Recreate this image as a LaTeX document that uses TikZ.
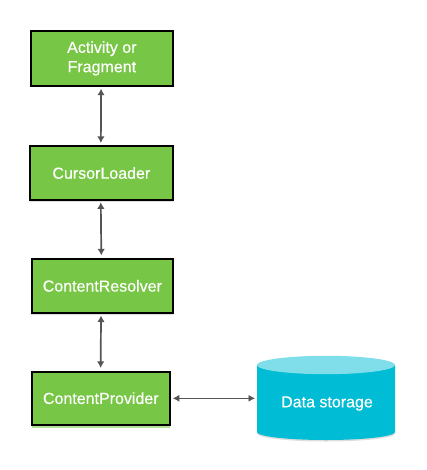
\documentclass[tikz,border=0pt]{standalone}
\usepackage{fontspec}
\setmainfont[FakeBold=0.3]{Liberation Sans}
\usetikzlibrary{arrows.meta}
\definecolor{boxgreen}{HTML}{78C645}
\definecolor{cyl}{HTML}{00BCD4}
\definecolor{cyltop}{HTML}{80DEEA}
\definecolor{arrowgray}{HTML}{555555}
\definecolor{softgray}{HTML}{DDDDDD}
\tikzset{
  lbl/.style={text=white,font=\fontsize{16}{19}\selectfont,align=center,inner sep=0pt,outer sep=0pt},
  greenbox/.style={draw=black,line width=2pt,fill=boxgreen,lbl,anchor=north west},
  link/.style={draw=arrowgray,line width=1.7pt,{Latex[length=6.5pt,width=7.5pt]}-{Latex[length=6.5pt,width=7.5pt]},shorten <=2.8pt,shorten >=3.6pt},
  thinlink/.style={draw=arrowgray,line width=0.9pt,{Latex[length=6.5pt,width=7pt]}-{Latex[length=6.5pt,width=7pt]},shorten <=3pt,shorten >=2pt},
}
\begin{document}
\begin{tikzpicture}[x=1pt,y=-1pt]
\useasboundingbox[fill=white] (0,0) rectangle (427,470);
% soft shadows
\fill[softgray] (31,86) rectangle (173,87.5);
\fill[softgray] (30,200) rectangle (173,201.5);
\fill[softgray] (31,313.5) rectangle (173,315);
\fill[boxgreen!55] (32,425.5) rectangle (170,427.5);
\fill[softgray] (326,433.5) ellipse[x radius=69,y radius=8];
% boxes
\node[greenbox,minimum width=141.5pt,minimum height=54.4pt] (a) at (31.1,31.5) {\raisebox{-1.5pt}{\begin{tabular}{@{}c@{}}Activity or\\[0.4pt]Fragment\end{tabular}}};
\node[greenbox,minimum width=142.5pt,minimum height=53pt] (b) at (30.1,146.5) {CursorLoader};
\node[greenbox,minimum width=141.5pt,minimum height=53.7pt] (c) at (31.6,259) {ContentResolver};
\node[greenbox,minimum width=138pt,minimum height=53.4pt] (d) at (31.8,371.5) {ContentProvider};
% storage
\node[minimum width=138pt,minimum height=84pt,inner sep=0pt,outer sep=0pt] (e) at (326,398.3) {};
\fill[cyl] (257,365) -- (257,432) arc[x radius=69,y radius=8,start angle=180,end angle=0] -- (395,365) -- cycle;
\fill[cyltop] (326,365) ellipse[x radius=69,y radius=9.2];
\node[lbl] (elabel) at (327,403.5) {Data storage};
% connectors
\draw[link] ([xshift=-0.8pt]a.south) -- ([xshift=-0.5pt]b.north);
\draw[link] ([xshift=-0.6pt]b.south) -- ([xshift=-1pt]c.north);
\draw[link] ([xshift=-1.3pt]c.south) -- ([xshift=-0.2pt]d.north);
\draw[thinlink] (d.east |- e.west) -- (e.west);
\end{tikzpicture}
\end{document}
